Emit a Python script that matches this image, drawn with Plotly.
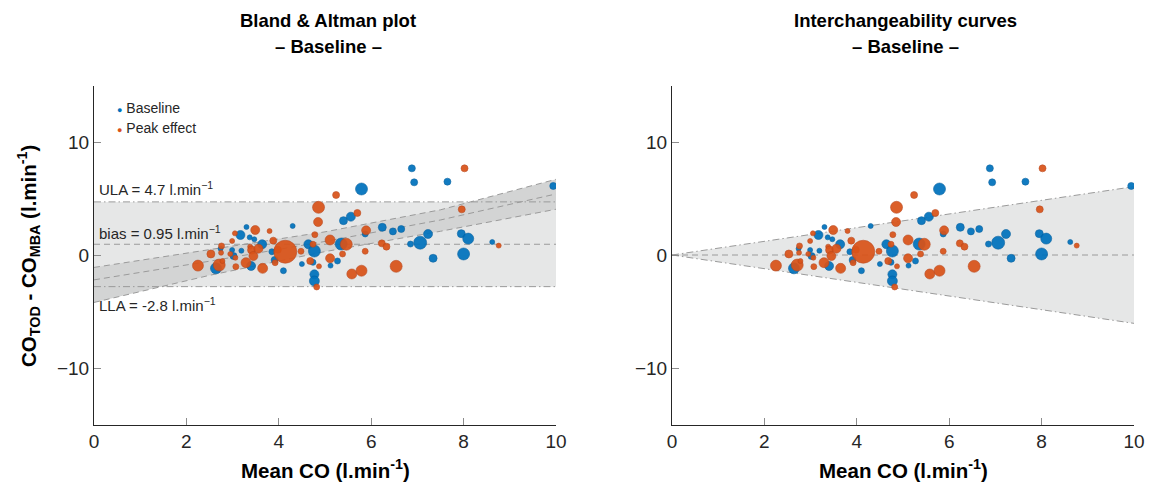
import plotly.graph_objects as go

# ---------------- data ----------------
base_x = [2.64, 2.74, 3.17, 3.30, 3.19, 2.99, 3.02, 3.37, 3.47, 3.40, 3.64, 3.85, 3.91, 4.10,
          4.30, 4.50, 4.64, 4.77, 4.74, 4.77, 4.77, 5.12, 5.27, 5.35, 5.40, 5.56, 5.79, 5.87,
          6.24, 6.47, 6.65, 6.85, 6.88, 6.93, 7.06, 7.23, 7.34, 7.65, 7.95, 8.10, 8.00, 8.62, 9.94]
base_y = [-1.18, 0.56, 1.77, 2.48, 0.38, 0.44, -0.09, 1.56, 1.39, -0.97, 0.95, 0.29, -0.44, -1.39,
          2.57, -0.80, 0.95, 0.35, -0.65, -1.71, -2.30, -0.94, -0.53, 0.97, 3.04, 3.39, 5.84, 1.86,
          2.45, 2.09, 2.30, 0.97, 7.67, 6.43, 1.09, 1.86, -0.29, 6.49, 1.89, 1.45, 0.09, 1.15, 6.11]
base_s = [11, 5, 9, 5, 5, 5, 7, 5, 5, 9, 9, 6, 7, 6,
          5, 5, 9, 12, 6, 9, 10, 5, 6, 12, 8, 9, 12, 6,
          8, 7, 7, 6, 7, 7, 13, 9, 8, 7, 8, 11, 12, 5, 7]

peak_x = [2.25, 2.71, 2.53, 2.76, 2.75, 2.78, 2.99, 3.05, 2.95, 3.06, 3.07, 3.29, 3.38, 3.41,
          3.45, 3.49, 3.56, 3.65, 3.80, 3.88, 3.92, 3.98, 4.14, 4.48, 4.68, 4.74, 4.78, 4.82,
          4.85, 4.86, 4.87, 5.11, 5.11, 5.24, 5.38, 5.46, 5.58, 5.70, 5.79, 5.87, 5.89, 6.23,
          6.33, 6.54, 7.96, 8.02, 8.76]
peak_y = [-0.94, -0.89, 0.09, 0.80, 0.20, -0.53, 1.24, 1.92, 0.09, -0.24, -1.03, -0.68, 0.74, 0.44,
          -0.09, 2.21, 0.56, -1.18, 2.12, 1.27, -0.68, 0.47, 0.29, 0.33, -0.53, 0.95, 1.80, -2.83,
          2.92, 4.22, -1.00, 1.33, -0.29, 5.31, 0.09, 0.95, -1.68, 3.72, -1.39, 0.33, 2.18, 1.03,
          0.74, -1.00, 4.04, 7.67, 0.83]
peak_s = [11, 12, 8, 6, 5, 5, 5, 5, 5, 5, 6, 10, 5, 8,
          9, 9, 9, 10, 5, 7, 6, 7, 23, 6, 7, 6, 6, 6,
          9, 12, 5, 10, 9, 7, 6, 12, 10, 7, 11, 6, 9, 7,
          7, 12, 7, 7, 5]

bias = 0.95
ula = 4.7
lla = -2.8
x_span = [0, 10]

# regression of differences on means, with its confidence band
reg_x = [0, 2.5, 5, 7.5, 10]
reg_upper = [-1.1, 0.5, 2.05, 4.0, 6.7]
reg_lower = [-4.2, -1.8, 0.3, 2.1, 4.05]
reg_mid = [-2.2, -0.55, 1.2, 3.1, 5.4]

# interchangeability funnel
fun_x = [0, 10]
fun_upper = [0, 6.05]
fun_lower = [0, -6.05]

x_ticks = [0, 2, 4, 6, 8, 10]
y_ticks = [-10, 0, 10]

BLUE = "#0072BD"
ORANGE = "#D95319"
LIGHT = "#e6e7e7"
DARK = "#d3d4d4"
LINEC = "#9a9a9a"
FONT = "Liberation Sans, Arial, sans-serif"
DASH = "6px,4px"
DASHDOT = "7px,3px,1.5px,3px"

W, H = 1149, 486

fig = go.Figure()

# ---------- left panel: Bland & Altman ----------
fig.add_trace(go.Scatter(x=[x_span[0], x_span[1], x_span[1], x_span[0]], y=[ula, ula, lla, lla],
                         fill="toself", fillcolor=LIGHT, mode="none", xaxis="x", yaxis="y",
                         hoverinfo="skip", showlegend=False))
fig.add_trace(go.Scatter(x=reg_x + reg_x[::-1], y=reg_upper + reg_lower[::-1],
                         fill="toself", fillcolor=DARK, mode="none", xaxis="x", yaxis="y",
                         hoverinfo="skip", showlegend=False))
for yy in (reg_upper, reg_lower, reg_mid):
    fig.add_trace(go.Scatter(x=reg_x, y=yy, mode="lines", xaxis="x", yaxis="y",
                             line=dict(color=LINEC, width=1, dash=DASH),
                             hoverinfo="skip", showlegend=False))
for lv in (ula, lla):
    fig.add_trace(go.Scatter(x=x_span, y=[lv, lv], mode="lines", xaxis="x", yaxis="y",
                             line=dict(color=LINEC, width=1, dash=DASHDOT),
                             hoverinfo="skip", showlegend=False))
fig.add_trace(go.Scatter(x=x_span, y=[bias, bias], mode="lines", xaxis="x", yaxis="y",
                         line=dict(color=LINEC, width=1, dash=DASH),
                         hoverinfo="skip", showlegend=False))

# ---------- right panel: interchangeability ----------
fig.add_trace(go.Scatter(x=fun_x + fun_x[::-1], y=fun_upper + fun_lower[::-1],
                         fill="toself", fillcolor=LIGHT, mode="none", xaxis="x2", yaxis="y2",
                         hoverinfo="skip", showlegend=False))
for yy in (fun_upper, fun_lower):
    fig.add_trace(go.Scatter(x=fun_x, y=yy, mode="lines", xaxis="x2", yaxis="y2",
                             line=dict(color=LINEC, width=1, dash=DASHDOT),
                             hoverinfo="skip", showlegend=False))
fig.add_trace(go.Scatter(x=fun_x, y=[0, 0], mode="lines", xaxis="x2", yaxis="y2",
                         line=dict(color=LINEC, width=1, dash=DASH),
                         hoverinfo="skip", showlegend=False))

# ---------- points on both panels ----------
for xa, ya in (("x", "y"), ("x2", "y2")):
    fig.add_trace(go.Scatter(x=base_x, y=base_y, mode="markers", xaxis=xa, yaxis=ya,
                             name="Baseline", showlegend=False,
                             marker=dict(color=BLUE, size=base_s, opacity=0.93,
                                         line=dict(color="#005d9c", width=0.6))))
    fig.add_trace(go.Scatter(x=peak_x, y=peak_y, mode="markers", xaxis=xa, yaxis=ya,
                             name="Peak effect", showlegend=False,
                             marker=dict(color=ORANGE, size=peak_s, opacity=0.93,
                                         line=dict(color="#b8441a", width=0.6))))

# ---------- axes ----------
def px_x(p):
    return p / W

def px_y(p):
    return (H - p) / H

ydom = [px_y(424.5), px_y(85.5)]
axis_common = dict(showline=True, linecolor="#262626", linewidth=1, mirror=False,
                   ticks="inside", ticklen=7, tickwidth=1, tickcolor="#8c8c8c",
                   showgrid=False, zeroline=False, automargin=False,
                   tickfont=dict(family=FONT, size=19, color="#262626"))

fig.update_layout(
    width=W, height=H,
    margin=dict(l=0, r=0, t=0, b=0, autoexpand=False),
    paper_bgcolor="white", plot_bgcolor="white",
    showlegend=False,
    xaxis=dict(domain=[px_x(94), px_x(556)], range=[0, 10], tickvals=x_ticks,
               anchor="y", **axis_common),
    yaxis=dict(domain=ydom, range=[-15, 15], tickvals=y_ticks, anchor="x", **axis_common),
    xaxis2=dict(domain=[px_x(672), px_x(1134)], range=[0, 10], tickvals=x_ticks,
                anchor="y2", **axis_common),
    yaxis2=dict(domain=ydom, range=[-15, 15], tickvals=y_ticks, anchor="x2", **axis_common),
)

ann = []
title_font = dict(family=FONT, size=18.5, color="#000000")
for cx, line1 in ((328, "Bland &amp; Altman plot"), (905, "Interchangeability curves")):
    ann.append(dict(text=f"<b>{line1}</b>", x=px_x(cx), y=px_y(20),
                    xref="paper", yref="paper", showarrow=False, font=title_font,
                    xanchor="center", yanchor="middle"))
    ann.append(dict(text="<b>– Baseline –</b>", x=px_x(cx), y=px_y(47),
                    xref="paper", yref="paper", showarrow=False, font=title_font,
                    xanchor="center", yanchor="middle"))
lab_font = dict(family=FONT, size=20.5, color="#000000")
for cx in (325, 903):
    ann.append(dict(text="<b>Mean CO (l.min<sup>-1</sup>)</b>", x=px_x(cx), y=px_y(469),
                    xref="paper", yref="paper", showarrow=False, font=lab_font,
                    xanchor="center", yanchor="middle"))
ann.append(dict(text="<b>CO<sub>TOD</sub> - CO<sub>MBA</sub> (l.min<sup>-1</sup>)</b>",
                x=px_x(28), y=px_y(256), xref="paper", yref="paper", showarrow=False,
                font=lab_font, textangle=-90, xanchor="center", yanchor="middle"))

small_font = dict(family=FONT, size=15, color="#262626")
ann.append(dict(text=f"ULA = {ula} l.min<sup>−1</sup>", x=0, y=ula, xref="x", yref="y",
                xshift=3, yshift=13, showarrow=False, font=small_font, xanchor="left", yanchor="middle"))
ann.append(dict(text=f"bias = {bias} l.min<sup>−1</sup>", x=0, y=bias, xref="x", yref="y",
                xshift=3, yshift=12, showarrow=False, font=small_font, xanchor="left", yanchor="middle"))
ann.append(dict(text=f"LLA = {lla} l.min<sup>−1</sup>", x=0, y=lla, xref="x", yref="y",
                xshift=3, yshift=-18, showarrow=False, font=small_font, xanchor="left", yanchor="middle"))

legend_font = dict(family=FONT, size=14, color="#262626")
for i, (name, col) in enumerate((("Baseline", BLUE), ("Peak effect", ORANGE))):
    ann.append(dict(text=f'<span style="color:{col};font-size:9px">●</span> {name}',
                    x=px_x(115), y=px_y(108 + 20 * i), xref="paper", yref="paper",
                    showarrow=False, font=legend_font, xanchor="left", yanchor="middle"))

fig.update_layout(annotations=ann)

fig.write_html("out.html", config={"displayModeBar": False},
               post_script="document.body.style.margin='0';document.body.style.overflow='hidden';")
